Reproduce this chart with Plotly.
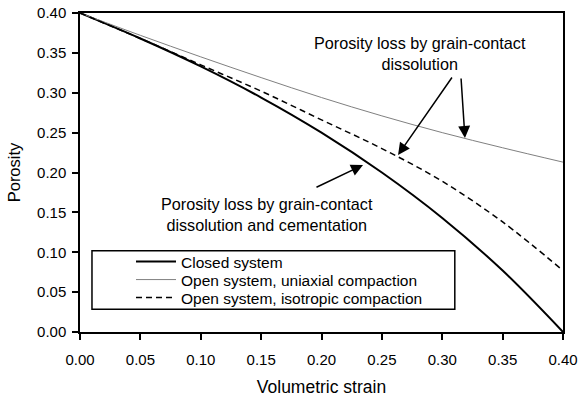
import plotly.graph_objects as go

strain = [0.00, 0.05, 0.10, 0.15, 0.20, 0.25, 0.30, 0.35, 0.40]
closed_system = [0.400, 0.368, 0.333, 0.294, 0.250, 0.200, 0.143, 0.077, 0.000]
open_uniaxial = [0.400, 0.372, 0.345, 0.319, 0.294, 0.271, 0.250, 0.231, 0.213]
open_isotropic = [0.400, 0.368, 0.335, 0.302, 0.266, 0.230, 0.189, 0.138, 0.077]

series_names = ["Closed system", "Open system, uniaxial compaction", "Open system, isotropic compaction"]
tick_vals = [0.00, 0.05, 0.10, 0.15, 0.20, 0.25, 0.30, 0.35, 0.40]
tick_text = ["0.00", "0.05", "0.10", "0.15", "0.20", "0.25", "0.30", "0.35", "0.40"]

FONT = "Liberation Sans, Arial, Helvetica, sans-serif"

fig = go.Figure()
fig.add_trace(go.Scatter(x=strain, y=closed_system, mode="lines", name=series_names[0], legend="legend",
                         line=dict(color="black", width=2, shape="spline")))
fig.add_trace(go.Scatter(x=strain, y=open_uniaxial, mode="lines", name=series_names[1], legend="legend2",
                         line=dict(color="#808080", width=1, shape="spline")))
fig.add_trace(go.Scatter(x=strain, y=open_isotropic, mode="lines", name=series_names[2], legend="legend3",
                         line=dict(color="black", width=1.5, dash="6px,4px", shape="spline")))

axis_common = dict(
    showgrid=False, zeroline=False, showline=True, linecolor="black", linewidth=1.5,
    mirror=True, ticks="outside", ticklen=6, tickwidth=1.5, tickcolor="black",
    tickvals=tick_vals, ticktext=tick_text, range=[0, 0.4], automargin=False,
    ticklabeloverflow="allow",
    tickfont=dict(family=FONT, size=15, color="black"),
)
fig.update_xaxes(**axis_common, ticklabelstandoff=7,
                 title=dict(text="Volumetric strain", font=dict(family=FONT, size=17.5, color="black"), standoff=14))
fig.update_yaxes(**axis_common, ticklabelstandoff=3,
                 title=dict(text="Porosity", font=dict(family=FONT, size=16.5, color="black"), standoff=12))

# legend frame
fig.add_shape(type="rect", xref="paper", yref="paper", x0=0.0248, x1=0.776, y0=0.0712, y1=0.2549,
              line=dict(color="black", width=1.5), fillcolor="white", layer="below")

arrow_style = dict(showarrow=True, arrowhead=2, arrowsize=1.6, arrowwidth=1.5, arrowcolor="black",
                   axref="x", ayref="y", text="", xref="x", yref="y", standoff=0)
fig.add_annotation(x=0.2634, y=0.222, ax=0.3089, ay=0.321, **arrow_style)
fig.add_annotation(x=0.3188, y=0.2433, ax=0.3155, ay=0.3197, **arrow_style)
fig.add_annotation(x=0.2344, y=0.2094, ax=0.1946, ay=0.1806, **arrow_style)

fig.add_annotation(x=0.2816, y=0.3498, xref="x", yref="y", showarrow=False, align="center",
                   text="Porosity loss by grain-contact<br>dissolution",
                   font=dict(family=FONT, size=16.2, color="black"))
fig.add_annotation(x=0.1549, y=0.1472, xref="x", yref="y", showarrow=False, align="center",
                   text="Porosity loss by grain-contact<br>dissolution and cementation",
                   font=dict(family=FONT, size=16.2, color="black"))

legend_common = dict(x=0.1056, xanchor="left", yanchor="middle", bgcolor="rgba(0,0,0,0)",
                     borderwidth=0, itemwidth=40,
                     font=dict(family=FONT, size=15.5, color="black"))
fig.update_layout(
    width=581, height=400,
    margin=dict(l=80, r=18, t=13, b=68),
    paper_bgcolor="white", plot_bgcolor="white",
    font=dict(family=FONT, color="black"),
    legend=dict(y=0.2194, **legend_common),
    legend2=dict(y=0.163, **legend_common),
    legend3=dict(y=0.1066, **legend_common),
    showlegend=True,
)

fig.write_html("out.html", config={"displayModeBar": False},
               post_script="document.body.style.margin='0';")
